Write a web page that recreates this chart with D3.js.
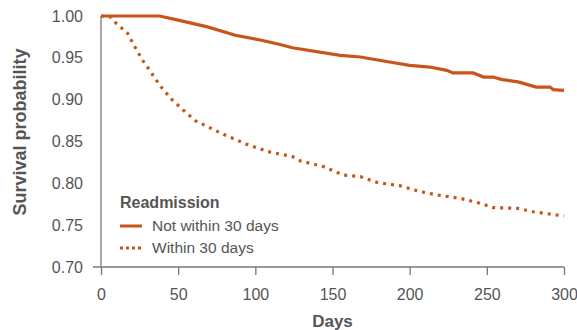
<!DOCTYPE html>
<html>
<head>
<meta charset="utf-8">
<script src="https://cdn.jsdelivr.net/npm/d3@7"></script>
<style>
  body { margin: 0; background: #fff; }
  text { font-family: "Liberation Sans", Arial, sans-serif; fill: #555; }
</style>
</head>
<body>
<div id="chart"></div>
<script>
var svgWidth = 577;
var svgHeight = 330;

var margin = { top: 16, right: 13, bottom: 63, left: 101 };
var width = svgWidth - margin.left - margin.right;
var height = svgHeight - margin.top - margin.bottom;

var orange = "#c8541a";

// survival curves
var notWithinDays = [0, 38, 50, 69, 87, 104, 116, 124, 155, 168, 187, 200, 213, 224, 228, 241, 248, 254, 260, 271, 282, 291, 293, 300];
var notWithinSurv = [1.0, 1.0, 0.995, 0.987, 0.977, 0.971, 0.966, 0.962, 0.953, 0.951, 0.945, 0.941, 0.939, 0.935, 0.932, 0.932, 0.927, 0.927, 0.924, 0.921, 0.915, 0.915, 0.912, 0.911];

var withinDays = [0, 6, 10, 17, 22, 27, 33, 39, 46, 53, 61, 71, 80, 94, 108, 124, 129, 144, 157, 168, 179, 194, 205, 218, 233, 246, 254, 270, 280, 300];
var withinSurv = [1.0, 0.999, 0.991, 0.980, 0.963, 0.947, 0.931, 0.915, 0.900, 0.888, 0.875, 0.866, 0.858, 0.847, 0.838, 0.832, 0.827, 0.820, 0.810, 0.808, 0.801, 0.797, 0.791, 0.786, 0.782, 0.776, 0.771, 0.770, 0.766, 0.761];

var xTicks = [0, 50, 100, 150, 200, 250, 300];
var yTicks = [0.70, 0.75, 0.80, 0.85, 0.90, 0.95, 1.00];

var legendTitle = "Readmission";
var seriesNames = ["Not within 30 days", "Within 30 days"];

var svg = d3.select("#chart")
  .append("svg")
  .attr("width", svgWidth)
  .attr("height", svgHeight);

var chartGroup = svg.append("g")
  .attr("transform", `translate(${margin.left}, ${margin.top})`);

var x = d3.scaleLinear().domain([0, 300]).range([0, width]);
var y = d3.scaleLinear().domain([0.70, 1.00]).range([height, 0]);

// x axis
var xAxis = chartGroup.append("g")
  .attr("transform", `translate(0, ${height})`)
  .call(d3.axisBottom(x).tickValues(xTicks).tickSize(8).tickPadding(14).tickFormat(d3.format("d")));
xAxis.select(".domain").attr("d", `M-8,0H${width}`);
xAxis.selectAll("line, .domain").attr("stroke", "#777").attr("stroke-width", 1.3);
xAxis.selectAll("text").style("font-size", "16px").attr("fill", "#555").attr("font-family", "Liberation Sans, Arial, sans-serif");

// y axis
var yAxis = chartGroup.append("g")
  .call(d3.axisLeft(y).tickValues(yTicks).tickSize(0).tickPadding(18).tickFormat(d3.format(".2f")));
yAxis.select(".domain").attr("d", `M0,${height}V0`).attr("stroke", "#777").attr("stroke-width", 1.3);
yAxis.selectAll("text").style("font-size", "16px").attr("fill", "#555").attr("font-family", "Liberation Sans, Arial, sans-serif");

var line = d3.line()
  .x(d => x(d[0]))
  .y(d => y(d[1]));

chartGroup.append("path")
  .datum(withinDays.map((d, i) => [d, withinSurv[i]]))
  .attr("fill", "none")
  .attr("stroke", orange)
  .attr("stroke-width", 3.2)
  .attr("stroke-dasharray", "3,5")
  .attr("d", line);

chartGroup.append("path")
  .datum(notWithinDays.map((d, i) => [d, notWithinSurv[i]]))
  .attr("fill", "none")
  .attr("stroke", orange)
  .attr("stroke-width", 3.2)
  .attr("d", line);

// axis titles
chartGroup.append("text")
  .attr("transform", `translate(${width / 2}, ${height + 60})`)
  .attr("text-anchor", "middle")
  .style("font-size", "17px")
  .style("font-weight", "bold")
  .text("Days");

svg.append("text")
  .attr("transform", "translate(26, 132) rotate(-90)")
  .attr("text-anchor", "middle")
  .style("font-size", "18px")
  .style("font-weight", "bold")
  .text("Survival probability");

// legend
var legend = svg.append("g").attr("transform", "translate(120, 208)");
legend.append("text")
  .attr("x", 0).attr("y", 0)
  .style("font-size", "16px")
  .style("font-weight", "bold")
  .text(legendTitle);

seriesNames.forEach(function(name, i) {
  var ly = 18 + i * 22;
  legend.append("line")
    .attr("x1", 0).attr("x2", 22)
    .attr("y1", ly).attr("y2", ly)
    .attr("stroke", orange)
    .attr("stroke-width", 3)
    .attr("stroke-dasharray", i === 1 ? "3,3" : null);
  legend.append("text")
    .attr("x", 32).attr("y", ly + 5)
    .style("font-size", "15.5px")
    .text(name);
});
</script>
</body>
</html>
